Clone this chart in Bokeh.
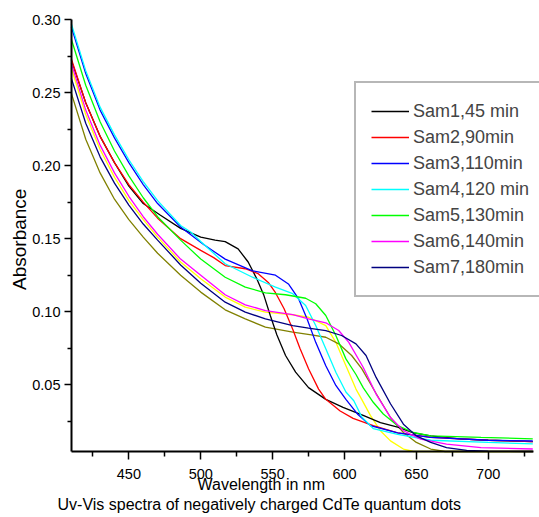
import math
from bokeh.plotting import figure
from bokeh.models import (FixedTicker, PrintfTickFormatter, Legend, LegendItem,
                          LinearAxis, Range1d, Label)
from bokeh.embed import file_html
from bokeh.resources import INLINE

FONT = "Liberation Sans"

# axis extents and ticks
x_start, x_end = 410.1, 731.5
y_start, y_end = 0.0043, 0.30
x_major = [450, 500, 550, 600, 650, 700]
x_minor = [425, 475, 525, 575, 625, 675, 725]
y_major = [0.05, 0.10, 0.15, 0.20, 0.25, 0.30]
y_minor = [0.025, 0.075, 0.125, 0.175, 0.225, 0.275]

# series
sam1_wl = [410, 420, 430, 440, 450, 460, 472, 486, 500, 510, 517, 526, 533, 539, 544, 548.5, 553, 559, 566, 575, 587, 599, 613, 625, 637, 648, 660, 680, 700, 731]
sam1_ab = [.272, .243, .220, .202, .186, .174, .166, .157, .151, .149, .148, .143, .134, .1225, .111, .097, .084, .070, .0586, .048, .040, .0345, .029, .024, .021, .017, .015, .013, .012, .011]

sam2_wl = [410, 420, 430, 440, 450, 460, 470, 486, 500, 509, 517, 531, 540, 547, 552, 558, 564, 569, 575, 582, 587, 597, 606, 620, 637, 660, 700, 731]
sam2_ab = [.273, .243, .220, .202, .187, .175, .164, .150, .142, .137, .1316, .1294, .126, .120, .113, .102, .088, .075, .061, .047, .040, .032, .027, .022, .017, .014, .012, .011]

sam3_wl = [410, 420, 430, 440, 450, 460, 470, 486, 502, 517, 536, 552, 561, 568, 574, 580, 587, 594, 601, 609, 618, 637, 660, 700, 731]
sam3_ab = [.295, .263, .238, .219, .202, .187, .174, .158, .146, .136, .128, .125, .119, .109, .095, .079, .063, .0495, .040, .030, .022, .017, .014, .012, .0115]

sam4_wl = [410, 420, 430, 440, 450, 460, 470, 486, 493, 500, 517, 536, 552, 564, 573, 580, 587, 594, 601, 606.5, 612, 620, 637, 660, 700, 731]
sam4_ab = [.297, .265, .240, .221, .204, .189, .176, .159, .1545, .148, .1328, .1236, .1168, .1123, .1042, .0905, .0746, .0586, .045, .039, .028, .020, .016, .012, .0105, .0095]

sam5_wl = [410, 420, 430, 440, 450, 460, 470, 486, 500, 517, 531, 545, 559, 573, 580, 587, 594, 601, 608, 613, 620, 627, 637, 648, 660, 695, 731]
sam5_ab = [.2865, .255, .230, .210, .193, .178, .165, .149, .136, .1236, .1168, .1129, .1116, .1092, .1054, .0974, .0837, .0677, .057, .048, .038, .030, .022, .0173, .015, .0139, .013]

sam6_wl = [410, 420, 430, 440, 450, 460, 470, 486, 500, 517, 531, 545, 564, 575, 587, 596, 603, 613, 622, 632, 641, 653, 671, 695, 731]
sam6_ab = [.270, .238, .214, .195, .179, .165, .153, .136, .125, .1116, .1047, .1008, .098, .0951, .0924, .0871, .079, .062, .0436, .0276, .0185, .0128, .0094, .007, .006]

sam7_wl = [410, 420, 430, 440, 450, 460, 470, 486, 500, 517, 531, 545, 564, 575, 587, 598, 608, 615, 622, 632, 641, 650, 660, 671, 685, 700, 731]
sam7_ab = [.2597, .229, .206, .188, .173, .160, .149, .132, .1195, .1065, .0997, .0951, .0905, .0887, .0871, .0837, .078, .070, .055, .037, .023, .015, .0105, .007, .005, .0045, .0043]

yel_wl = [410, 420, 430, 440, 450, 460, 470, 486, 500, 517, 531, 545, 564, 575, 587, 594, 601, 608, 612, 618, 625, 632, 641, 648, 660, 731]
yel_ab = [.2666, .235, .211, .192, .176, .163, .151, .134, .1226, .110, .1031, .0997, .0979, .0962, .0905, .079, .063, .047, .040, .029, .0185, .0116, .006, .0043, .0043, .0043]

oli_wl = [410, 420, 430, 440, 450, 460, 470, 486, 500, 517, 531, 545, 564, 577, 587, 596, 605, 612, 622, 632, 641, 650, 660, 670, 700, 731]
oli_ab = [.2494, .218, .195, .177, .163, .151, .140, .125, .1134, .1013, .0951, .0894, .086, .0842, .0825, .078, .070, .061, .044, .0276, .0173, .0105, .006, .0043, .0043, .0043]

labels = ["Sam1,45 min", "Sam2,90min", "Sam3,110min", "Sam4,120 min",
          "Sam5,130min", "Sam6,140min", "Sam7,180min"]
colors = ["#000000", "#ff0000", "#0000ff", "#00ffff", "#00ff00", "#ff00ff", "#000080"]
series = [(sam1_wl, sam1_ab), (sam2_wl, sam2_ab), (sam3_wl, sam3_ab), (sam4_wl, sam4_ab),
          (sam5_wl, sam5_ab), (sam6_wl, sam6_ab), (sam7_wl, sam7_ab)]
extra = [(yel_wl, yel_ab, "#ffff00"), (oli_wl, oli_ab, "#808000")]

y_title = "Absorbance"
x_title = "Wavelength in nm"
caption = "Uv-Vis spectra of negatively charged CdTe quantum dots"

# layout (pixels): where the drawn axes sit inside the canvas
W, H = 539, 517
AX_L, AX_R, AX_T, AX_B = 71, 533, 19, 451
kx = (AX_R - AX_L) / (x_end - x_start)
ky = (AX_B - AX_T) / (y_end - y_start)
x_lo, x_hi = x_start - AX_L / kx, x_end + (W - AX_R) / kx
y_lo, y_hi = y_start - (H - AX_B) / ky, y_end + AX_T / ky

p = figure(width=W, height=H, x_range=Range1d(x_lo, x_hi), y_range=Range1d(y_lo, y_hi),
           output_backend="svg", toolbar_location=None, min_border=0, title=None,
           x_axis_location=None, y_axis_location=None)
p.outline_line_color = None
p.grid.visible = False
p.background_fill_color = "white"
p.border_fill_color = "white"

for wl, ab, c in extra:
    p.line(wl, ab, line_color=c, line_width=1.3)

renderers = []
for (wl, ab), c in zip(series, colors):
    renderers.append(p.line(wl, ab, line_color=c, line_width=1.3))

xaxis = LinearAxis(fixed_location=y_start, bounds=(x_start, x_end),
                   ticker=FixedTicker(ticks=x_major, minor_ticks=x_minor))
yaxis = LinearAxis(fixed_location=x_start, bounds=(y_start, y_end),
                   ticker=FixedTicker(ticks=y_major, minor_ticks=y_minor),
                   formatter=PrintfTickFormatter(format="%.2f"))
for ax in (xaxis, yaxis):
    ax.axis_line_width = 2
    ax.axis_line_color = "black"
    ax.major_tick_line_width = 1.5
    ax.minor_tick_line_width = 1.5
    ax.major_tick_in = 0
    ax.minor_tick_in = 0
    ax.major_label_text_font = FONT
    ax.major_label_text_font_size = "14.5px"
    ax.major_label_text_color = "black"
xaxis.major_tick_out = 8
xaxis.minor_tick_out = 5
xaxis.major_label_standoff = 9
yaxis.major_tick_out = 7
yaxis.minor_tick_out = 4
yaxis.major_label_standoff = 4
p.add_layout(xaxis, "below")
p.add_layout(yaxis, "left")

p.add_layout(Label(x=19.4, y=H - 238.8, x_units="screen", y_units="screen", text=y_title,
                   angle=math.pi / 2, text_align="center", text_baseline="middle",
                   text_font=FONT, text_font_size="19px", text_color="black"))
p.add_layout(Label(x=260.8, y=H - 483.8, x_units="screen", y_units="screen", text=x_title,
                   text_align="center", text_baseline="middle",
                   text_font=FONT, text_font_size="16px", text_color="black"))
p.add_layout(Label(x=57, y=H - 503.7, x_units="screen", y_units="screen", text=caption,
                   text_align="left", text_baseline="middle",
                   text_font=FONT, text_font_size="16px", text_color="black"))

legend = Legend(items=[LegendItem(label=l, renderers=[r]) for l, r in zip(labels, renderers)],
                location=(354, H - 297), padding=15, spacing=0, margin=0,
                label_height=26, glyph_height=26, glyph_width=38, label_standoff=4,
                label_width=150, label_text_font=FONT, label_text_font_size="18px",
                border_line_color="#707070", border_line_width=2,
                background_fill_color="white", background_fill_alpha=1.0)
p.add_layout(legend)

open("out.html", "w").write(file_html(p, INLINE))
